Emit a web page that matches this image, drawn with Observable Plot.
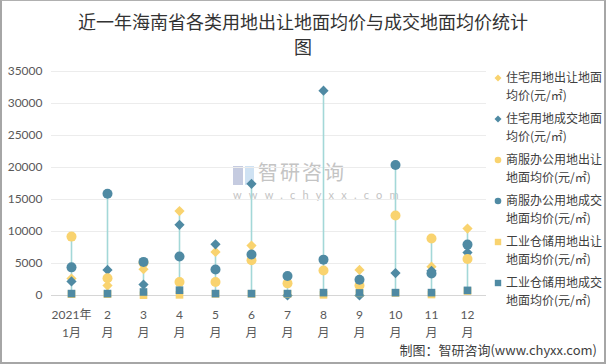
<!DOCTYPE html>
<html><head><meta charset="utf-8">
<script src="https://cdn.jsdelivr.net/npm/d3@7"></script>
<script src="https://cdn.jsdelivr.net/npm/@observablehq/plot@0.6"></script>
<style>
body{margin:0;background:#fff;}
#wrap{position:relative;width:606px;height:364px;background:#fff;font-family:"Noto Sans CJK SC",sans-serif;overflow:hidden;}
#frame{position:absolute;left:0;top:0;width:606px;height:364px;box-sizing:border-box;border:1px solid #b0b0b0;border-left:2px solid #a6a6a6;border-right:2px solid #a6a6a6;border-bottom:2px solid #a6a6a6;pointer-events:none;}
#title{position:absolute;left:0;top:9px;width:606px;text-align:center;font-size:18px;line-height:25px;color:#333;}
#chart{position:absolute;left:0;top:60px;}
#legend{position:absolute;left:494px;top:68px;width:112px;font-size:12px;color:#404040;}
.item{position:relative;height:41px;}
.item svg{position:absolute;left:0;top:6px;}
.item div{position:absolute;left:12px;top:0;line-height:18px;white-space:nowrap;}
#footer{position:absolute;right:9px;top:340px;font-size:13px;color:#404040;}
#wm{position:absolute;left:233px;top:163px;color:#c4c4c4;pointer-events:none;}
</style></head>
<body>
<div id="wrap">
  <div id="title">近一年海南省各类用地出让地面均价与成交地面均价统计<br>图</div>
  <div id="wm">
    <div style="position:absolute;left:0;top:3px;width:10px;height:19px;background:#c5cbe0;"></div>
    <div style="position:absolute;left:12px;top:3px;width:9px;height:19px;background:#cfe2f3;"></div>
    <div style="position:absolute;left:25px;top:-2px;font-size:20px;line-height:22px;white-space:nowrap;letter-spacing:2px;">智研咨询</div>
    <div style="position:absolute;left:0;top:26px;font-size:11px;line-height:12px;white-space:nowrap;letter-spacing:7.2px;font-family:Lato,sans-serif;">www.chyxx.com</div>
  </div>
  <div id="chart"></div>
  <div id="legend"></div>
  <div id="footer">制图：智研咨询(www.chyxx.com)</div>
  <div id="frame"></div>
</div>
<script>
const months = ["1","2","3","4","5","6","7","8","9","10","11","12"];
const xTickLabels = ["2021年\n1月","2\n月","3\n月","4\n月","5\n月","6\n月","7\n月","8\n月","9\n月","10\n月","11\n月","12\n月"];
const yTicks = [0,5000,10000,15000,20000,25000,30000,35000];

const seriesNames = [
  "住宅用地出让地面均价(元/㎡)",
  "住宅用地成交地面均价(元/㎡)",
  "商服办公用地出让地面均价(元/㎡)",
  "商服办公用地成交地面均价(元/㎡)",
  "工业仓储用地出让地面均价(元/㎡)",
  "工业仓储用地成交地面均价(元/㎡)"
];
const legendLines = [
  ["住宅用地出让地面","均价(元/㎡)"],
  ["住宅用地成交地面","均价(元/㎡)"],
  ["商服办公用地出让","地面均价(元/㎡)"],
  ["商服办公用地成交","地面均价(元/㎡)"],
  ["工业仓储用地出让","地面均价(元/㎡)"],
  ["工业仓储用地成交","地面均价(元/㎡)"]
];
const residentialSell = [2650,1550,4100,13200,6800,7800,null,null,4000,null,4500,10450];
const residentialDeal = [2200,4000,1700,11050,8000,17450,0,32000,0,3500,3850,6700];
const commercialSell  = [9200,2700,5100,2100,2100,5500,1900,3900,1550,12500,8900,5700];
const commercialDeal  = [4400,15900,5250,6100,4050,6400,3050,5600,2450,20400,3450,7950];
const industrialSell  = [200,200,50,100,250,250,250,100,350,400,150,700];
const industrialDeal  = [300,300,550,830,300,300,300,450,400,450,450,800];

const seriesValues = [residentialSell, residentialDeal, commercialSell, commercialDeal, industrialSell, industrialDeal];
const seriesColors = ["#f9d36f","#4f8aa3","#f9d36f","#4f8aa3","#f9d36f","#4f8aa3"];
const seriesSymbols = ["diamond2","diamond2","circle","circle","square","square"];
const seriesR = [4.6,4.6,5,5,4.3,4.3];

const rows = [];
seriesValues.forEach((vals, s) => vals.forEach((v, i) => {
  if (v != null) rows.push({month: months[i], value: v, s});
}));
const ranges = months.map((m, i) => {
  const vs = seriesValues.map(a => a[i]).filter(v => v != null);
  return {month: m, lo: d3.min(vs), hi: d3.max(vs)};
});

const labelOf = new Map(months.map((m, i) => [m, xTickLabels[i]]));

const marks = [
  Plot.gridY(yTicks, {stroke: "#ececec", strokeOpacity: 1}),
  Plot.ruleY([0], {stroke: "#d6d6d6", strokeWidth: 1}),
  Plot.axisY({ticks: yTicks, tickSize: 0, tickPadding: 9, tickFormat: d => String(d), fontSize: 12}),
  Plot.axisX({tickSize: 0, tickPadding: 11, tickFormat: d => labelOf.get(d), fontSize: 12, lineHeight: 1.5}),
  Plot.ruleX(ranges, {x: "month", y1: "lo", y2: "hi", stroke: "#a3d8d8", strokeWidth: 1.6})
];
seriesValues.forEach((_, s) => {
  marks.push(Plot.dot(rows.filter(d => d.s === s), {
    x: "month", y: "value", symbol: seriesSymbols[s], r: seriesR[s],
    fill: seriesColors[s], stroke: "none"
  }));
});

const chart = Plot.plot({
  width: 606, height: 290,
  marginLeft: 51, marginRight: 120, marginTop: 11, marginBottom: 55,
  x: {type: "band", domain: months, padding: 0, label: null},
  y: {domain: [0, 35000], label: null},
  style: {fontFamily: "Lato, 'Noto Sans CJK SC', sans-serif", fontSize: "12px", color: "#595959", background: "transparent"},
  marks
});
document.getElementById("chart").appendChild(chart);

const legend = document.getElementById("legend");
const shapes = {
  diamond2: c => `<polygon points="4,0.5 7.5,4 4,7.5 0.5,4" fill="${c}"/>`,
  circle: c => `<circle cx="4" cy="4" r="3.3" fill="${c}"/>`,
  square: c => `<rect x="0.8" y="0.8" width="6.4" height="6.4" fill="${c}"/>`
};
seriesNames.forEach((name, s) => {
  const el = document.createElement("div");
  el.className = "item";
  el.title = name;
  el.innerHTML = `<svg width="8" height="8">${shapes[seriesSymbols[s]](seriesColors[s])}</svg><div>${legendLines[s][0]}<br>${legendLines[s][1]}</div>`;
  legend.appendChild(el);
});
</script>
</body></html>
